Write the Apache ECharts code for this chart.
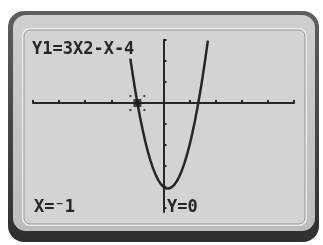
<!DOCTYPE html>
<html>
<head>
<meta charset="utf-8">
<script src="https://cdn.jsdelivr.net/npm/echarts@6/dist/echarts.min.js"></script>
<style>html,body{margin:0;padding:0;background:#fff;}#c{width:323px;height:245px;}</style>
</head>
<body>
<div id="c"></div>
<script>
const curveX = [-1.27, -1.2, -1.1, -1.0, -0.9, -0.8, -0.7, -0.6, -0.5, -0.4, -0.3, -0.2, -0.1, 0.0, 0.1, 0.2, 0.3, 0.4, 0.5, 0.6, 0.7, 0.8, 0.9, 1.0, 1.1, 1.2, 1.3, 1.4, 1.5, 1.6, 1.7];
const curveY = [2.11, 1.52, 0.73, 0.0, -0.67, -1.28, -1.83, -2.32, -2.75, -3.12, -3.43, -3.68, -3.87, -4.0, -4.07, -4.08, -4.03, -3.92, -3.75, -3.52, -3.23, -2.88, -2.47, -2.0, -1.47, -0.88, -0.23, 0.48, 1.25, 2.08, 2.97];
const cursorPoint = [-1, 0];
const yTicks = [-5, -4, -3, -2, -1, 1, 2, 3];
const equationText = "Y1=3X2-X-4";
const xReadout = "X=\u207B1";
const yReadout = "Y=0";

const ink = '#262626';
const font = 'bold 17px "DejaVu Sans Mono", "Liberation Mono", monospace';
const chart = echarts.init(document.getElementById('c'), null, {renderer: 'canvas'});
chart.setOption({
  animation: false,
  backgroundColor: '#ffffff',
  grid: {left: 33, right: 29, top: 40, bottom: 33, containLabel: false},
  xAxis: {
    type: 'value', min: -5, max: 5, interval: 1,
    axisLine: {onZero: true, lineStyle: {color: ink, width: 2}},
    axisTick: {show: true, inside: true, length: 3, lineStyle: {color: ink, width: 2}},
    axisLabel: {show: false}, splitLine: {show: false}
  },
  yAxis: {
    type: 'value', min: -5.2, max: 3,
    axisLine: {show: true, onZero: true, lineStyle: {color: ink, width: 2}},
    axisTick: {show: true, inside: true, length: 3, customValues: yTicks, lineStyle: {color: ink, width: 2}},
    axisLabel: {show: false}, splitLine: {show: false}
  },
  graphic: [
    {type: 'rect', z: -10, shape: {x: 8, y: 11, width: 311, height: 231, r: 16},
     style: {fill: new echarts.graphic.LinearGradient(0, 0, 0, 1, [{offset: 0, color: '#5e5e5e'}, {offset: 1, color: '#2f2f2f'}])}},
    {type: 'rect', z: -9, shape: {x: 13, y: 15, width: 302, height: 216, r: 13},
     style: {fill: new echarts.graphic.LinearGradient(0, 0, 0, 1, [{offset: 0, color: '#cfcfcf'}, {offset: 1, color: '#bdbdbd'}])}},
    {type: 'rect', z: -8, shape: {x: 22, y: 28, width: 285, height: 198, r: 8},
     style: {fill: '#ececec'}},
    {type: 'rect', z: -7, shape: {x: 24, y: 30, width: 281, height: 194, r: 6},
     style: {fill: '#d3d3d3', stroke: '#959595', lineWidth: 1}},
    {type: 'text', z: 10, left: 32, top: 41, style: {text: equationText, font: font, fill: ink}},
    {type: 'text', z: 10, left: 34, top: 199, style: {text: xReadout, font: font, fill: ink}},
    {type: 'text', z: 10, left: 167, top: 199, style: {text: yReadout, font: font, fill: ink}}
  ],
  series: [
    {
      type: 'line',
      data: curveX.map((x, i) => [x, curveY[i]]),
      showSymbol: false, smooth: false, clip: true,
      lineStyle: {color: ink, width: 2.5}
    },
    {
      type: 'scatter',
      data: [cursorPoint],
      symbol: 'path://M0,0h2v2h-2zM14,0h2v2h-2zM0,14h2v2h-2zM14,14h2v2h-2zM4,4h8v8h-8z',
      symbolSize: 16,
      itemStyle: {color: '#1a1a1a'},
      z: 5
    }
  ]
});
</script>
</body>
</html>
